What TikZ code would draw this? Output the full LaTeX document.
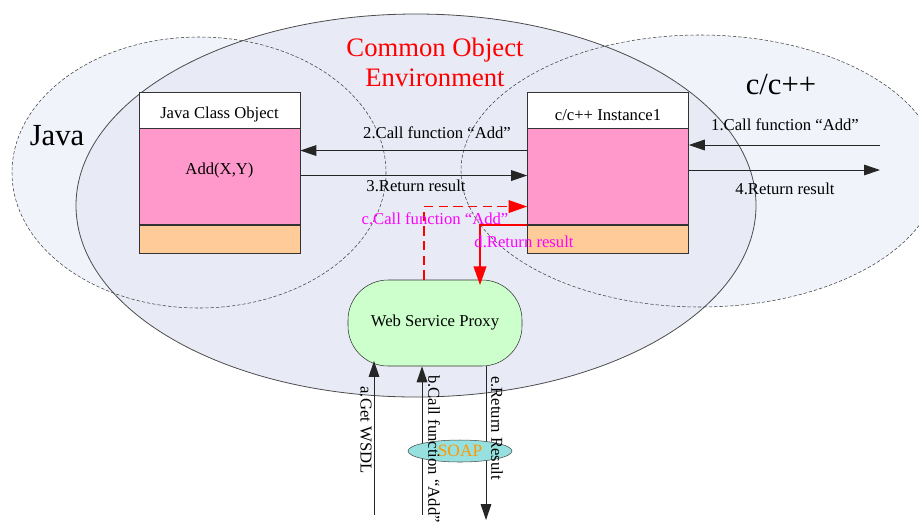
\documentclass[tikz,border=0pt]{standalone}
\usepackage{fontspec}
\setmainfont{Liberation Serif}
\usetikzlibrary{positioning, arrows.meta, shapes.geometric}
\definecolor{envfill}{RGB}{232, 235, 246}
\definecolor{langfill}{RGB}{240, 243, 250}
\definecolor{methodpink}{RGB}{255, 153, 204}
\definecolor{fieldorange}{RGB}{255, 204, 153}
\definecolor{proxygreen}{RGB}{204, 255, 204}
\definecolor{soapcyan}{RGB}{150, 224, 224}
\definecolor{soaporange}{RGB}{255, 153, 0}
\definecolor{notemagenta}{RGB}{255, 0, 255}

\tikzset{
  lbl/.style={font=\fontsize{12.5}{14}\selectfont, inner sep=0pt},
  classhead/.style={draw=black!80, fill=white, minimum width=120.75pt, minimum height=27pt, inner sep=0pt, lbl, text height=16pt},
  classbody/.style={classhead, fill=methodpink, minimum height=72pt, text height=9pt, text depth=12pt},
  classfoot/.style={classhead, fill=fieldorange, minimum height=21pt},
  langline/.style={draw=black!75, line width=0.4pt, dash pattern=on 2.5pt off 1.5pt},
  msg/.style={draw=black!85, line width=0.75pt, -{Triangle[length=12pt,width=8pt]}},
  redmsg/.style={draw=red, line width=1.2pt, -{Triangle[length=14pt,width=9.5pt]}},
  redlbl/.style={lbl, text=notemagenta},
}

\begin{document}
\begin{tikzpicture}[x=0.75pt, y=-0.75pt]
\useasboundingbox (0,0) rectangle (919,522);
% language areas and the shared environment
\fill[langfill] (199,172.5) ellipse [x radius=187, y radius=135.5];
\fill[langfill] (700,171) ellipse [x radius=239, y radius=136];
\filldraw[fill=envfill, draw=black!70, line width=0.6pt] (416,205.5) ellipse [x radius=340, y radius=191.5];
\draw[langline] (199,172.5) ellipse [x radius=187, y radius=135.5];
\draw[langline] (700,171) ellipse [x radius=239, y radius=136];

\node[text=red, font=\fontsize{20}{22.5}\selectfont, align=center] (envtitle) at (435,62) {Common Object\\Environment};
\node[font=\fontsize{23}{26}\selectfont] (javatitle) at (57,136) {Java};
\node[font=\fontsize{23}{26}\selectfont] (ctitle) at (781,85) {c/c++};

% class boxes
\node[classhead] (javahead) at (219.5,110) {Java Class Object};
\node[classbody, below=0pt of javahead] (javabody) {Add(X,Y)};
\node[classfoot, below=0pt of javabody] (javafoot) {};
\node[classhead] (chead) at (608,110) {c/c++ Instance1};
\node[classbody, below=0pt of chead] (cbody) {};
\node[classfoot, below=0pt of cbody] (cfoot) {};

\node[draw=black!80, fill=proxygreen, rounded corners=30pt, minimum width=130.5pt, minimum height=64.5pt, lbl] (proxy) at (435,323) {Web Service Proxy};

\coordinate (cin) at (880,145);
\coordinate (cout) at (880,170);
\coordinate (wsdlsrc) at (374,515);
\coordinate (callsrc) at (422,515);
\coordinate (resdst) at (486,520);

% calls between the objects
\draw[msg] (cin) -- (cin -| cbody.east);
\draw[msg] ([yshift=19.5pt]cbody.west) -- ([yshift=19.5pt]javabody.east);
\draw[msg] ([yshift=0.75pt]javabody.east) -- ([yshift=0.75pt]cbody.west);
\draw[msg] (cout -| cbody.east) -- (cout);
\node[lbl] (call1) at (785,125) {1.Call function “Add”};
\node[lbl] (call2) at (437,133) {2.Call function “Add”};
\node[lbl] (ret3) at (416,186) {3.Return result};
\node[lbl] (ret4) at (785,189) {4.Return result};

% proxy side
\draw[redmsg, dash pattern=on 7pt off 4pt] ([xshift=-8.25pt]proxy.north) |- ([yshift=-22.5pt]cbody.west);
\draw[redmsg] (cbody.south west) -| ([xshift=33.75pt,yshift=-4pt]proxy.north);
\node[redlbl] (callc) at (435,219) {c.Call function “Add”};
\node[redlbl] (retd) at (524,242) {d.Return result};

\draw[msg] (wsdlsrc) -- ([yshift=4pt]wsdlsrc |- proxy.south);
\draw[msg] (callsrc) -- (callsrc |- proxy.south);
\draw[msg] (resdst |- proxy.south) -- (resdst);
\node[ellipse, draw=black!70, fill=soapcyan, minimum width=78pt, minimum height=16.5pt, inner sep=0pt, font=\fontsize{13}{15}\selectfont, text=soaporange] (soap) at (460,451) {SOAP};
\node[lbl, rotate=-90] (geta) at (366,430) {a.Get WSDL};
\node[lbl, rotate=-90] (callb) at (434,449) {b.Call function “Add”};
\node[lbl, rotate=-90] (rete) at (497,428) {e.Return Result};
\end{tikzpicture}
\end{document}
